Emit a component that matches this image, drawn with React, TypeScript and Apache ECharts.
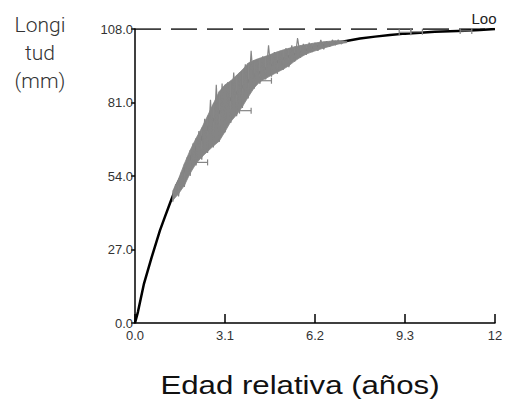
import React, { useEffect, useRef } from "react";
import * as echarts from "echarts";

// Fitted growth curve (years, mm)
const curveT = [0, 0.1, 0.31, 0.57, 0.86, 1.03, 1.24, 1.48, 2.07, 2.58, 3.1, 3.62, 4.13, 4.65, 5.17, 5.68, 6.2, 6.72, 7.23, 7.75, 8.27, 8.78, 9.3, 9.82, 10.33, 10.85, 11.37, 11.88, 12.4];
const curveL = [0, 4, 14.5, 24, 34, 39, 45, 51.5, 64, 73, 80, 86, 91, 94.5, 97.5, 99.5, 101.5, 102.5, 103.5, 104.5, 105.2, 105.8, 106.3, 106.6, 107, 107.2, 107.4, 107.6, 108];

// Observed spread (grey band): lower and upper envelopes
const bandT = [1.3, 1.5, 1.7, 1.9, 2.1, 2.3, 2.5, 2.7, 2.9, 3.1, 3.3, 3.5, 3.7, 3.9, 4.1, 4.3, 4.5, 4.7, 4.9, 5.1, 5.3, 5.5, 5.7, 5.9, 6.1, 6.3, 6.5, 6.7, 6.9, 7.1, 7.3];
const bandLow = [45, 47.5, 50.5, 55, 58.5, 61, 63, 65, 66.8, 70.3, 74, 76.5, 79.5, 83, 86.3, 88.6, 89.8, 91, 92.1, 93.2, 94.5, 96.2, 97.6, 98.8, 99.6, 100.3, 101, 101.6, 102.2, 102.7, 103];
const bandHigh = [48.5, 53, 58.5, 63.5, 67.8, 71.7, 76.1, 80.6, 85, 87.5, 89, 91, 93, 95.5, 96.5, 97.3, 98, 98.8, 99.6, 100.3, 100.9, 101.5, 101.9, 102.3, 102.7, 103, 103.3, 103.5, 103.7, 103.7, 103.5];

// Observed traces (jagged grey lines)
const obsT = [1.3, 1.4, 1.5, 1.6, 1.7, 1.8, 1.9, 2.0, 2.1, 2.2, 2.3, 2.4, 2.5, 2.6, 2.7, 2.8, 2.9, 3.0, 3.1, 3.2, 3.3, 3.4, 3.5, 3.6, 3.7, 3.8, 3.9, 4.0, 4.1, 4.2, 4.3, 4.4, 4.5, 4.6, 4.7, 4.8, 4.9, 5.0, 5.1, 5.2, 5.3, 5.4, 5.5, 5.6, 5.7, 5.8, 5.9, 6.0, 6.1, 6.2, 6.3, 6.4, 6.5, 6.6, 6.7, 6.8, 6.9, 7.0, 7.1, 7.2];
const obsL = [44.5, 51, 46.5, 55.5, 50, 61, 54, 66, 58, 70.5, 60, 75, 62.5, 82, 64.5, 87.5, 66.5, 88, 70, 88.5, 73.5, 92, 76, 92, 79, 95, 82.5, 100, 86, 97, 88, 98, 89.5, 102, 90.5, 99.5, 91.5, 100, 93, 101, 94, 102, 96, 104.7, 97.5, 102.5, 98.5, 103, 99.5, 103, 100, 104, 100.5, 103.5, 101.5, 104, 102, 104, 102.5, 103.5];

// Isolated observation marks (t, length)
const markT = [2.3, 3.8, 4.5, 9.3, 9.7, 11.4];
const markL = [59, 78, 89, 106.8, 107, 107.3];

const lInf = 108;
const xTicks = ["0.0", "3.1", "6.2", "9.3", "12"];
const yTicks = ["0.0", "27.0", "54.0", "81.0", "108.0"];

export default function App() {
  const ref = useRef<HTMLDivElement>(null);
  useEffect(() => {
    const chart = echarts.init(ref.current!, null, { renderer: "svg" });
    const labelFont = { fontFamily: "Liberation Sans, Arial, sans-serif", fontSize: 13, color: "#333" };
    const grey = "#858585";
    chart.setOption({
      animation: false,
      grid: { left: 135, right: 11, top: 29, bottom: 82 },
      xAxis: {
        type: "value",
        min: 0,
        max: 12.4,
        interval: 3.1,
        splitLine: { show: false },
        axisLine: { show: true, lineStyle: { color: "#000", width: 1.5 } },
        axisTick: { show: true, inside: true, length: 9, lineStyle: { color: "#000", width: 1.5 } },
        axisLabel: {
          ...labelFont,
          margin: 6,
          formatter: (v: number) => xTicks[Math.round(v / 3.1)] ?? "",
        },
      },
      yAxis: {
        type: "value",
        min: 0,
        max: 108,
        interval: 27,
        splitLine: { show: false },
        axisLine: { show: true, lineStyle: { color: "#000", width: 1.5 } },
        axisTick: { show: true, inside: false, length: 4, lineStyle: { color: "#000", width: 1.5 } },
        axisLabel: {
          ...labelFont,
          margin: 2,
          formatter: (v: number) => yTicks[Math.round(v / 27)] ?? "",
        },
      },
      series: [
        {
          type: "line",
          data: [[0, lInf], [12.4, lInf]],
          symbol: "none",
          lineStyle: { color: "#000", width: 1.3, type: [26, 10] },
          z: 1,
        },
        {
          type: "line",
          data: curveT.map((t, i) => [t, curveL[i]]),
          symbol: "none",
          lineStyle: { color: "#000", width: 2.5 },
          z: 2,
        },
        {
          type: "custom",
          data: bandT.map((t, i) => [t, bandLow[i], bandHigh[i]]),
          z: 3,
          renderItem: (params: any, api: any) => {
            const i = params.dataIndex;
            if (i >= bandT.length - 1) return null;
            const a = api.coord([bandT[i], bandHigh[i]]);
            const b = api.coord([bandT[i + 1], bandHigh[i + 1]]);
            const c = api.coord([bandT[i + 1], bandLow[i + 1]]);
            const d = api.coord([bandT[i], bandLow[i]]);
            return {
              type: "polygon",
              shape: { points: [a, b, c, d] },
              style: { fill: grey, stroke: grey, lineWidth: 0.8 },
            };
          },
        },
        {
          type: "line",
          data: obsT.map((t, i) => [t, obsL[i]]),
          symbol: "none",
          lineStyle: { color: grey, width: 1.2 },
          z: 4,
        },
        {
          type: "custom",
          data: markT.map((t, i) => [t, markL[i]]),
          z: 5,
          renderItem: (params: any, api: any) => {
            const i = params.dataIndex;
            const l = api.coord([markT[i] - 0.2, markL[i]]);
            const r = api.coord([markT[i] + 0.2, markL[i]]);
            return {
              type: "group",
              children: [
                { type: "line", shape: { x1: l[0], y1: l[1], x2: r[0], y2: r[1] }, style: { stroke: grey, lineWidth: 1.2 } },
                { type: "line", shape: { x1: l[0], y1: l[1] - 3, x2: l[0], y2: l[1] + 3 }, style: { stroke: grey, lineWidth: 1.2 } },
                { type: "line", shape: { x1: r[0], y1: r[1] - 3, x2: r[0], y2: r[1] + 3 }, style: { stroke: grey, lineWidth: 1.2 } },
              ],
            };
          },
        },
      ],
      graphic: [
        { type: "text", x: 40, y: 25, style: { text: "Longi", fontFamily: "Roboto, sans-serif", fontWeight: 300, fontSize: 21, fill: "#333", align: "center", verticalAlign: "middle" } },
        { type: "text", x: 40, y: 53, style: { text: "tud", fontFamily: "Roboto, sans-serif", fontWeight: 300, fontSize: 21, fill: "#333", align: "center", verticalAlign: "middle" } },
        { type: "text", x: 40, y: 81, style: { text: "(mm)", fontFamily: "Roboto, sans-serif", fontWeight: 300, fontSize: 21, fill: "#333", align: "center", verticalAlign: "middle" } },
        { type: "text", x: 484, y: 18, style: { text: "Loo", fontFamily: "Liberation Sans, Arial, sans-serif", fontSize: 15, fill: "#222", align: "center", verticalAlign: "middle" } },
        { type: "text", x: 300, y: 385, scaleX: 1.2, style: { text: "Edad relativa (años)", fontFamily: "Liberation Sans, Arial, sans-serif", fontSize: 26, fill: "#111", align: "center", verticalAlign: "middle" } },
      ],
    });
    return () => chart.dispose();
  }, []);
  return <div ref={ref} style={{ width: 506, height: 405, position: "absolute", left: 0, top: 0 }} />;
}
